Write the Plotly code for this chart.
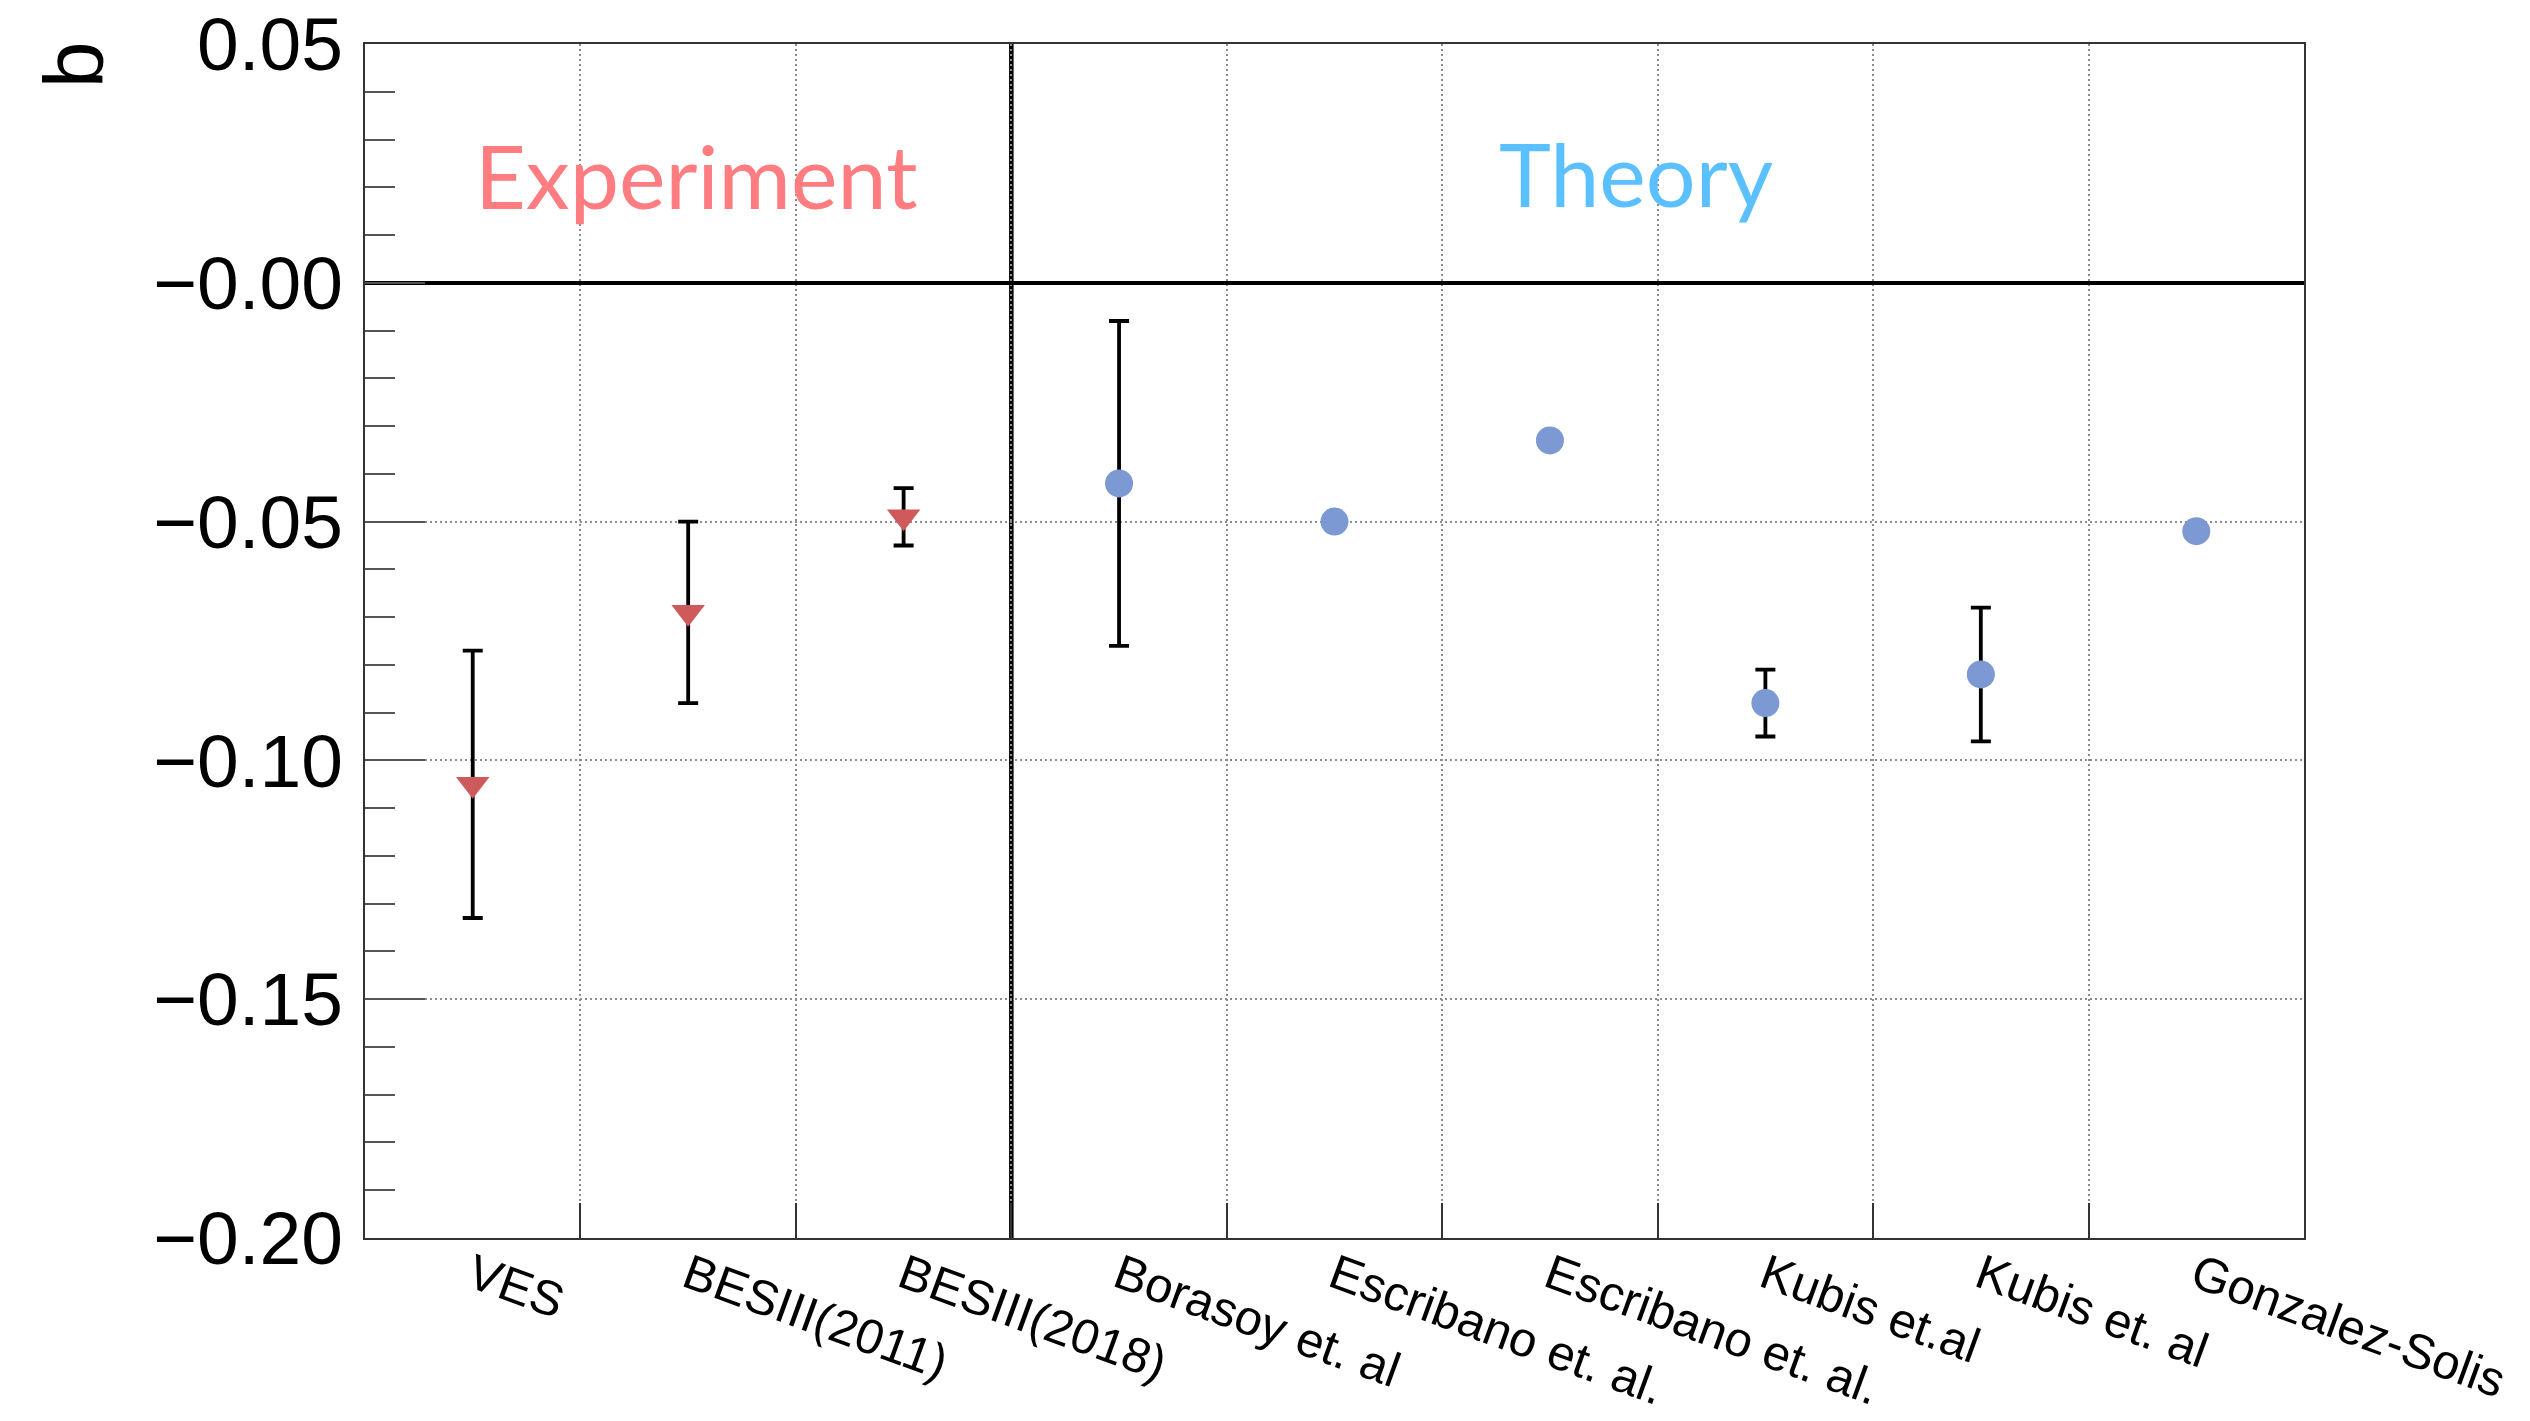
import plotly.graph_objects as go

# ---- data ----
exp_labels = ["VES", "BESIII(2011)", "BESIII(2018)"]
exp_b = [-0.105, -0.069, -0.049]
exp_err = [0.028, 0.019, 0.006]

th_labels = ["Borasoy et. al", "Escribano et. al.", "Escribano et. al.",
             "Kubis et.al", "Kubis et. al", "Gonzalez-Solis"]
th_b = [-0.042, -0.050, -0.033, -0.088, -0.082, -0.052]
th_err = [0.034, None, None, 0.007, 0.014, None]

y_tickvals = [0.05, 0.0, -0.05, -0.10, -0.15, -0.20]
y_ticktext = ["0.05", "\u22120.00", "\u22120.05", "\u22120.10", "\u22120.15", "\u22120.20"]

categories = exp_labels + th_labels
xpos = list(range(len(categories)))
exp_x = xpos[:len(exp_labels)]
th_x = xpos[len(exp_labels):]
boundaries = [i + 0.5 for i in xpos[:-1]]
split = len(exp_labels) - 0.5

W, H = 2530, 1421
L, R, T, B = 365, 226, 44, 183

fig = go.Figure()
fig.add_trace(go.Scatter(
    x=exp_x, y=exp_b, mode="markers",
    marker=dict(symbol="triangle-down", size=29, color="#CF5A5C", line=dict(width=0)),
    error_y=dict(type="data", array=exp_err, visible=True, color="black", thickness=3.8, width=10),
    showlegend=False,
))
fig.add_trace(go.Scatter(
    x=th_x, y=th_b, mode="markers",
    marker=dict(symbol="circle", size=28, color="#7C99D3", line=dict(width=0)),
    error_y=dict(type="data", array=th_err, visible=True, color="black", thickness=3.8, width=10),
    showlegend=False,
))

fig.add_shape(type="line", xref="x", yref="paper", x0=split, x1=split, y0=0, y1=1,
              line=dict(color="black", width=4.5), layer="between")

fig.add_annotation(text="Experiment", xref="paper", yref="paper", x=0.1708, y=0.890,
                   showarrow=False, xanchor="center", yanchor="middle",
                   font=dict(family="Lato", size=88, color="#FF7C80"))
fig.add_annotation(text="Theory", xref="paper", yref="paper", x=0.6556, y=0.892,
                   showarrow=False, xanchor="center", yanchor="middle",
                   font=dict(family="Lato", size=88, color="#5BC0FF"))
fig.add_annotation(text="b", xref="paper", yref="paper", x=-0.1499, y=0.9825,
                   showarrow=False, xanchor="center", yanchor="middle", textangle=-90,
                   font=dict(family="Liberation Sans", size=84, color="black"))

grid_color = "#8c8c8c"
fig.update_layout(
    width=W, height=H,
    margin=dict(l=L, r=R, t=T, b=B, pad=0, autoexpand=False),
    paper_bgcolor="white", plot_bgcolor="white",
    xaxis=dict(
        range=[-0.5, len(categories) - 0.5], automargin=False,
        tickmode="array", tickvals=xpos, ticktext=categories,
        tickangle=20, ticks="", showgrid=False, zeroline=False,
        ticklabeloverflow="allow", ticklabelstandoff=-12,
        tickfont=dict(family="Liberation Sans", size=49, color="black"),
        showline=True, linecolor="#333333", linewidth=2, mirror=True,
        minor=dict(tickmode="array", tickvals=boundaries, ticks="inside", ticklen=35,
                   tickwidth=2, tickcolor="#333333", showgrid=True,
                   gridcolor=grid_color, gridwidth=2, griddash="2px,3px"),
    ),
    yaxis=dict(
        range=[-0.20, 0.05], automargin=False,
        tickmode="array", tickvals=y_tickvals, ticktext=y_ticktext,
        ticks="inside", ticklen=60, tickwidth=2, tickcolor="#555555",
        ticklabelstandoff=5,
        tickfont=dict(family="Liberation Sans", size=75, color="black"),
        showgrid=True, gridcolor=grid_color, gridwidth=2, griddash="2px,3px",
        zeroline=True, zerolinecolor="black", zerolinewidth=4,
        showline=True, linecolor="#333333", linewidth=2, mirror=True,
        minor=dict(dtick=0.01, tick0=0, ticks="inside", ticklen=30, tickwidth=2,
                   tickcolor="#555555", showgrid=False),
    ),
)

fig.write_html("out.html")
